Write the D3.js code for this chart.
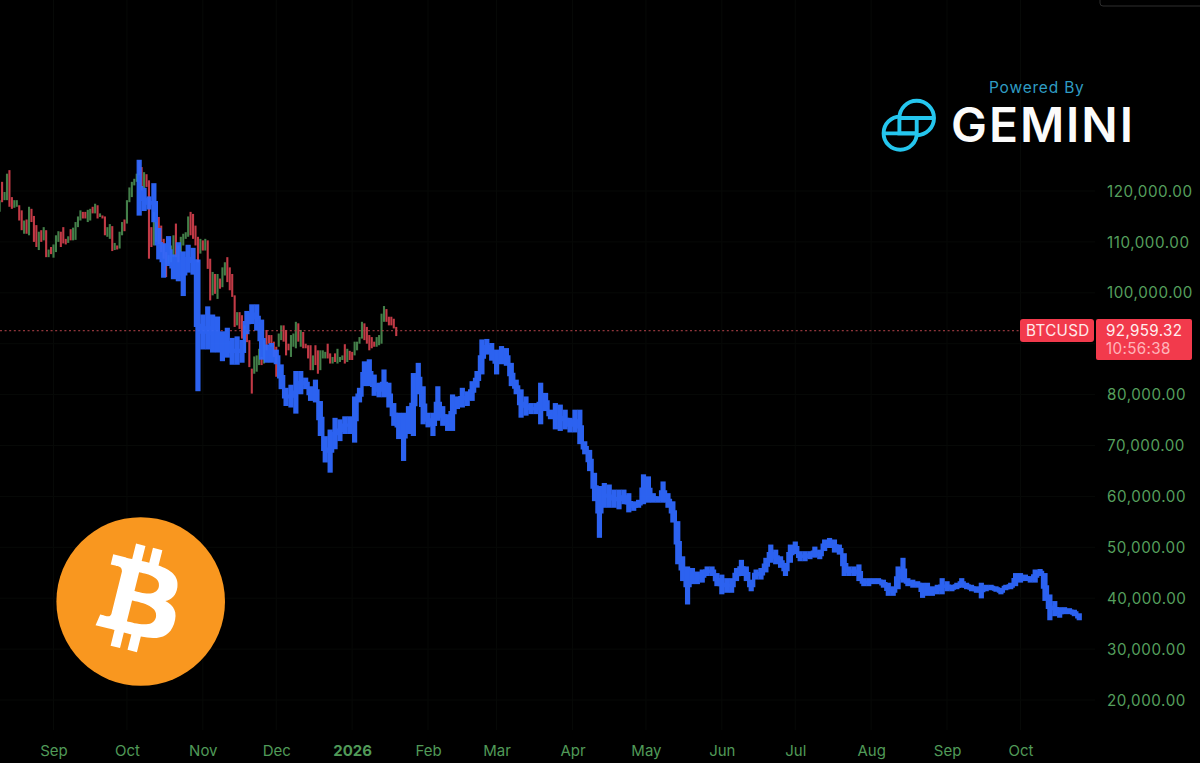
<!DOCTYPE html>
<html><head><meta charset="utf-8">
<script src="https://cdn.jsdelivr.net/npm/d3@7/dist/d3.min.js"></script>
<style>html,body{margin:0;background:#000;overflow:hidden}svg{display:block}text{font-family:Inter,"Open Sans",sans-serif}</style>
</head><body><svg id="c" width="1200" height="763"></svg>
<script>
// prices in thousands USD: [high, low, up(1)/down(0)], one per day from candleStart
const candleStart = "2025-08-10";
const candleBars = [
[118.2,115.9,1],[121.8,117.8,0],[119.8,118.2,1],[123.4,118.2,1],[124.1,116.9,0],[118.8,116.5,0],[118.2,116.7,1],[118.2,116.9,1],[117.2,114.2,0],[116.2,112.3,0],
[114.2,111.6,1],[114.4,111.6,0],[116.9,111.3,1],[116.5,113.9,0],[115.1,110,0],[113.3,109,0],[112,108.4,1],[112.3,110,0],[112.9,110.3,1],[112.3,107,0],
[108.5,107,1],[109,107.6,0],[109.5,106.9,1],[111.3,108,1],[112.1,110,1],[112,109,0],[112.9,109.7,0],[110.6,109.5,0],[111.1,109.8,1],[112.5,110.3,0],
[112.8,110.3,1],[113.9,110.4,1],[115,112.9,1],[116.2,114.2,1],[115.9,114.6,0],[115.9,114.6,0],[116.3,113.9,1],[116.5,114.2,1],[116.9,115.6,0],[117.5,115.6,1],
[117.2,114.6,0],[115.6,114.9,1],[115.2,114.6,0],[115,111.3,0],[112.9,111,1],[113.5,110.6,1],[113.1,108.2,0],[109.8,108.4,1],[109.3,108.5,0],[112,108.7,1],
[113.9,111.3,1],[114.4,112.1,0],[118.2,113.6,1],[120.7,117.8,1],[121.8,118.8,1],[122.4,121.1,1],[123.4,121.8,1],[126,123.1,0],[124.7,120.1,0],[123.7,120.5,1],
[123.3,120.8,0],[122.1,106.7,0],
[112.9,109,0],[115.9,109.3,1],[113.9,110,1],[114.9,109.6,0],[113.2,108,0],[110.6,106.7,0],[108,103.1,0],[107.4,105.7,1],[109.3,106,1],[111.3,107,1],
[113.6,107,0],[109.3,106,0],[111,108,1],[111.6,109.3,1],[111.9,110.6,1],[115,111,1],[115.9,111.3,0],[115.5,110.6,0],[113.2,109.3,0],[111,106,0],
[110.6,107.7,1],[110.3,108.3,0],[110.6,108.3,1],[110.3,104.7,0],[106.7,98.5,0],[104.1,99.5,1],[103.7,99.8,0],[103.7,98.8,1],[102.8,100.8,0],[105,101.1,1],
[106,103.4,1],[107,102.1,0],[105,100.5,0],[103.7,99.2,0],[99.5,93.3,0],[96.2,93.6,1],[96.2,92.9,0],[95.6,91,0],[93.6,88.4,1],[92.6,90.3,0],
[90.7,85.4,0],[85.1,80.2,0],[87.5,84.1,1],[87.7,84.5,1],[89,85.8,1],[87.4,85.8,0],[90.7,86.1,1],[92.7,88.7,0],[91.7,90,0],[91.7,89.4,0],
[90.4,87.4,0],[89.4,83.5,0],[92,89.4,1],[93.6,90.7,1],[93.6,90.4,0],[92.7,87.7,0],[90,88.7,0],[91.7,87.4,1],[92,89.4,1],[94.3,89.1,1],
[94,90.4,0],[92.7,89.4,1],[92.3,89.1,0],[90,89.1,0],[89.7,87.1,0],[89.7,84.8,0],[87.7,84.8,1],[89.7,85.8,0],[88.7,84.1,0],[88.7,84.8,1],
[88.7,87.1,1],[88.4,87.1,1],[90,87.1,0],[88.1,86.1,0],[87.4,86.1,1],[88.1,86.4,0],[89,86.1,1],[87.4,86.4,1],[87.7,86.8,1],[89.9,86.1,0],
[89,86.4,1],[88.6,86.8,0],[88.4,86.8,0],[90.4,87.7,1],[90.4,88.7,1],[91.3,90,1],[94.3,91,1],[94,90.7,0],[93.3,90,0],[91.7,88.7,0],
[91.3,89.1,0],[90.4,89.4,0],[91.3,89.4,1],[91.7,89.7,1],[95.9,90,1],[97.4,94.3,1],[96.8,94.3,0],[95.3,93.6,0],[95.3,93.6,0],[94.9,93,0],[93.3,91.5,0]
];
// projected path, prices in thousands USD: [high, low], one per blueStepDays from blueStart
const blueStart = "2025-10-06";
const blueStepDays = 2;
const blueBars = [
[126,115.3],[120.5,116.2],[118.8,116.5],[121.4,114],[112.6,106.7],[109.6,103.1],[111,105.4],[107.4,102.8],[109.8,102.4],[108,99.5],
[109.3,104.1],[108.7,103.7],[106.4,80.8],[95.6,89],[97.2,89],[95.6,88.4],[95.2,88.4],[92.3,86.7],[93,87.4],[91,86],
[91.3,86],[90.6,86.4],[96.3,92],[97.6,94],[97.6,92.7],[94.6,87],[89.7,86.4],[90,86.4],[88.7,86.1],[85.8,81.2],
[81.2,77.9],[81.8,77.6],[84.5,76.4],[84.5,80.2],[83.2,81.2],[81.5,78.9],[82.8,78.6],[78.6,72],[71.7,66.8],[73,64.8],
[75.3,69.4],[75,71],[75.6,72.4],[75.6,72.4],[79.5,70.7],[81.2,78.6],[86.4,81.8],[86.8,81.8],[83.8,79.9],[82.2,79.6],
[84.8,79.6],[82.2,77.6],[78.2,74],[76.3,71.4],[76.3,67.1],[77.6,72.4],[84.1,72],[86.1,80.2],[81.5,74.3],[76.3,73.7],
[76.3,72],[81.5,75],[77.6,74],[76,73],[79.9,73],[79.5,77.3],[81.2,77.6],[80.5,77.9],[82.5,78.9],[84.5,81.5],
[90.7,84.1],[90.8,88],[90,86.8],[88.7,84.1],[89.4,86.1],[89,85.8],[86.1,81.8],[82.8,80.2],[80.9,75.6],[79.5,76],
[78.2,76.3],[78.2,76.3],[82.2,74.3],[80.2,76.9],[76.9,75.3],[78.2,73.3],[77.9,73],[76.9,73.3],[75.3,72.7],[76.9,72.7],
[76.9,70.4],[70.7,68.4],[69,65.1],[64.5,59.2],[61.9,52],[62.5,57.9],[62.2,57.9],[61.2,57.9],[61.2,57.6],[61.2,58.6],
[60.5,57],[58.9,57.3],[59.2,57.9],[64.2,58.6],[63.8,58.9],[60.5,58.9],[59.9,58.9],[62.8,58.9],[60.5,57.9],[58.9,55],
[55,46.8],[48.1,43.5],[46.1,38.9],[45.8,42.9],[45.1,42.9],[45.5,43.2],[46.1,44.5],[46.1,44.5],[44.8,42.5],[44.5,40.9],
[43.8,41.2],[43.8,41.2],[45.8,43.5],[47.4,44.5],[46.1,43.5],[43.5,41.5],[45.5,43.8],[45.8,43.8],[47.8,45.2],[50.4,47.1],
[49.4,46.8],[48.1,46.1],[46.8,44.5],[50.4,47.1],[51,48.8],[49.1,47.4],[49.1,47.4],[49.1,47.8],[50,48.1],[49.4,47.8],
[51.4,49.4],[51.7,50],[51.4,49.1],[50.4,48.7],[48.7,44.5],[46.1,44.5],[46.1,44.5],[46.5,43.5],[43.8,42.5],[43.8,42.5],
[43.8,42.9],[43.8,42.9],[43.5,42.2],[42.9,40.6],[42.2,40.6],[46.1,41.9],[47.8,43.2],[43.8,42.5],[43.5,42.2],[43.2,42.2],
[42.9,40.2],[42.9,40.6],[42.2,40.6],[42.5,40.9],[43.8,40.9],[43.2,41.5],[42.5,41.5],[42.9,41.9],[43.8,42.2],[42.9,41.9],
[42.5,41.5],[42.2,41.2],[42.9,40.1],[42.5,41.5],[42.5,41.7],[42.2,41.4],[41.9,40.9],[42.5,41.7],[42.9,41.9],[44.8,42.5],
[44.8,43.2],[44.5,43.5],[44.2,43.2],[45.5,43.2],[45.6,44.5],[44.8,39.6],[40.6,35.8],[39.3,36.6],[38.1,36.3],[38.1,37],
[37.9,37],[37.6,36.6],[36.9,35.8]
];
const yTicks = [120,110,100,80,70,60,50,40,30,20];
const gridLevels = [120,110,100,90,80,70,60,50,40,30,20];
const xTickDates = ["2025-09-01","2025-10-01","2025-11-01","2025-12-01","2026-01-01","2026-02-01","2026-03-01","2026-04-01","2026-05-01","2026-06-01","2026-07-01","2026-08-01","2026-09-01","2026-10-01"];
const xTickLabels = ["Sep","Oct","Nov","Dec","2026","Feb","Mar","Apr","May","Jun","Jul","Aug","Sep","Oct"];
const priceLineLevel = 92.55;
const symbolLabel = "BTCUSD", priceLabel = "92,959.32", countdownLabel = "10:56:38";

const svg = d3.select("#c");
const parse = d3.utcParse("%Y-%m-%d");
const x = d3.scaleUtc().domain([parse("2025-09-01"), parse("2026-10-01")]).range([53.5, 1020.5]);
const y = d3.scaleLinear().domain([20, 120]).range([700, 191]);
const addDays = (d, n) => d3.utcDay.offset(d, n);

svg.append("rect").attr("width",1200).attr("height",763).attr("fill","#000");

// faint grid
const grid = svg.append("g").attr("stroke","#070907").attr("stroke-width",1);
grid.selectAll(".v").data(xTickDates).join("line").attr("x1",d=>x(parse(d))).attr("x2",d=>x(parse(d))).attr("y1",0).attr("y2",730);
grid.selectAll(".h").data(gridLevels).join("line").attr("x1",0).attr("x2",1095).attr("y1",d=>y(d)).attr("y2",d=>y(d));

// candles
const s0 = parse(candleStart);
svg.append("g").selectAll("line").data(candleBars).join("line")
  .attr("x1",(d,i)=>x(addDays(s0,i))).attr("x2",(d,i)=>x(addDays(s0,i)))
  .attr("y1",d=>y(d[0])).attr("y2",d=>y(d[1]))
  .attr("stroke",d=>d[2]?"#437f49":"#c23a46").attr("stroke-width",2.1);

// price line
svg.append("line").attr("x1",0).attr("x2",1020).attr("y1",y(priceLineLevel)).attr("y2",y(priceLineLevel))
  .attr("stroke","#b8454c").attr("stroke-width",1).attr("stroke-dasharray","2 2.6");

// blue path: bars plus a stepped connector through their midpoints
const b0 = parse(blueStart);
const blueX = i => x(addDays(b0,i*blueStepDays));
const blue = svg.append("g").attr("opacity",0.94);
blue.append("path").attr("fill","none").attr("stroke","#2f69ff").attr("stroke-width",3.4)
  .attr("d", d3.line().curve(d3.curveStep).x((d,i)=>blueX(i)).y(d=>y((d[0]+d[1])/2))(blueBars));
blue.selectAll("rect").data(blueBars).join("rect")
  .attr("x",(d,i)=>blueX(i)-2.6).attr("width",5.2)
  .attr("y",d=>y(d[0])-0.7).attr("height",d=>y(d[1])-y(d[0])+1.4)
  .attr("fill","#2f69ff");

// axes
const axisY = d3.axisRight(y).tickValues(yTicks).tickSize(0).tickPadding(0).tickFormat(d=>d3.format(",.2f")(d*1000));
const gy = svg.append("g").attr("transform","translate(1107,0)").call(axisY);
gy.select(".domain").remove();
gy.selectAll("text").attr("fill","#559f5d").style("font-family","Inter,sans-serif").style("font-size","15.2px").style("letter-spacing","0.55px").attr("dy","0.34em").attr("x",0);

const axisX = d3.axisBottom(x).tickValues(xTickDates.map(parse)).tickSize(0).tickPadding(0).tickFormat((d,i)=>xTickLabels[i]);
const gx = svg.append("g").attr("transform","translate(0,745.5)").call(axisX);
gx.select(".domain").remove();
gx.selectAll("text").attr("fill","#509a58").style("font-family","Inter,sans-serif").style("font-size","15px")
  .style("font-weight",(d,i)=>xTickLabels[i]==="2026"?700:400).attr("dy","0.72em");

// price tags
svg.append("rect").attr("x",1020).attr("y",319).attr("width",74).attr("height",23).attr("rx",3).attr("fill","#f23a4c");
svg.append("rect").attr("x",1096).attr("y",319).attr("width",96).attr("height",41).attr("rx",2).attr("fill","#f23a4c");
const tagText = (t,xp,yp,fill)=>svg.append("text").text(t).attr("x",xp).attr("y",yp).attr("fill",fill).style("font-size","15.2px").style("letter-spacing","0.35px");
tagText(symbolLabel,1026,336,"#ffe9ea");
tagText(priceLabel,1106,336,"#ffeeef");
tagText(countdownLabel,1106,354,"#ffb4ba");

// Gemini logo: two ring arcs around a shared square
const gemArc = d3.arc();
const gem = svg.append("g").attr("fill","none").attr("stroke","#25c6ee").attr("stroke-width",3.9);
gem.append("path").attr("transform","translate(916.7,118)").attr("d",gemArc({innerRadius:17.3,outerRadius:17.3,startAngle:-Math.PI/2,endAngle:Math.PI}));
gem.append("path").attr("transform","translate(900.2,133.2)").attr("d",gemArc({innerRadius:16.6,outerRadius:16.6,startAngle:Math.PI/2,endAngle:2*Math.PI}));
gem.append("rect").attr("x",899.4).attr("y",118).attr("width",17.3).attr("height",15.4);
gem.append("line").attr("x1",899).attr("x2",934).attr("y1",118).attr("y2",118);
gem.append("line").attr("x1",883.6).attr("x2",917).attr("y1",133.4).attr("y2",133.4);
svg.append("text").text("Powered By").attr("x",989).attr("y",93).attr("fill","#2f9dc4").style("font-size","15.5px").style("letter-spacing","0.8px");
svg.append("text").text("GEMINI").attr("x",951).attr("y",142).attr("fill","#fbfbfb").attr("textLength",182).attr("lengthAdjust","spacing")
  .style("font-size","48px").style("font-weight",600);

// Bitcoin logo
svg.append("circle").attr("cx",140.7).attr("cy",601.5).attr("r",84.3).attr("fill","#f9971f");
svg.append("path").attr("transform","translate(138.5,600) scale(2.68) translate(-31.6,-32.2)").attr("fill","#fff")
 .attr("d","M46.11 27.441c.636-4.258-2.606-6.547-7.039-8.074l1.438-5.768-3.512-.875-1.4 5.616c-.922-.23-1.87-.447-2.812-.662l1.41-5.653-3.509-.875-1.439 5.766c-.764-.174-1.514-.346-2.242-.527l.004-.018-4.842-1.209-.934 3.75s2.605.597 2.55.634c1.422.355 1.68 1.296 1.636 2.042l-1.638 6.571c.098.025.225.061.365.117l-.37-.092-2.297 9.205c-.174.432-.615 1.08-1.609.834.035.051-2.552-.637-2.552-.637l-1.743 4.02 4.57 1.139c.85.213 1.683.436 2.502.646l-1.453 5.835 3.507.875 1.44-5.772c.957.26 1.887.5 2.797.726L27.504 50.8l3.511.875 1.453-5.823c5.987 1.133 10.49.676 12.383-4.738 1.527-4.36-.075-6.875-3.225-8.516 2.294-.531 4.022-2.04 4.483-5.157zM38.087 38.69c-1.086 4.36-8.426 2.004-10.807 1.412l1.928-7.729c2.38.594 10.011 1.77 8.88 6.317zm1.085-11.312c-.99 3.966-7.1 1.951-9.083 1.457l1.748-7.01c1.983.494 8.367 1.416 7.335 5.553z");

// corner UI sliver
svg.append("path").attr("d","M1100 0 v3 q0 3 3 3 h97").attr("fill","none").attr("stroke","#2e2e2e").attr("stroke-width",1);
</script></body></html>
